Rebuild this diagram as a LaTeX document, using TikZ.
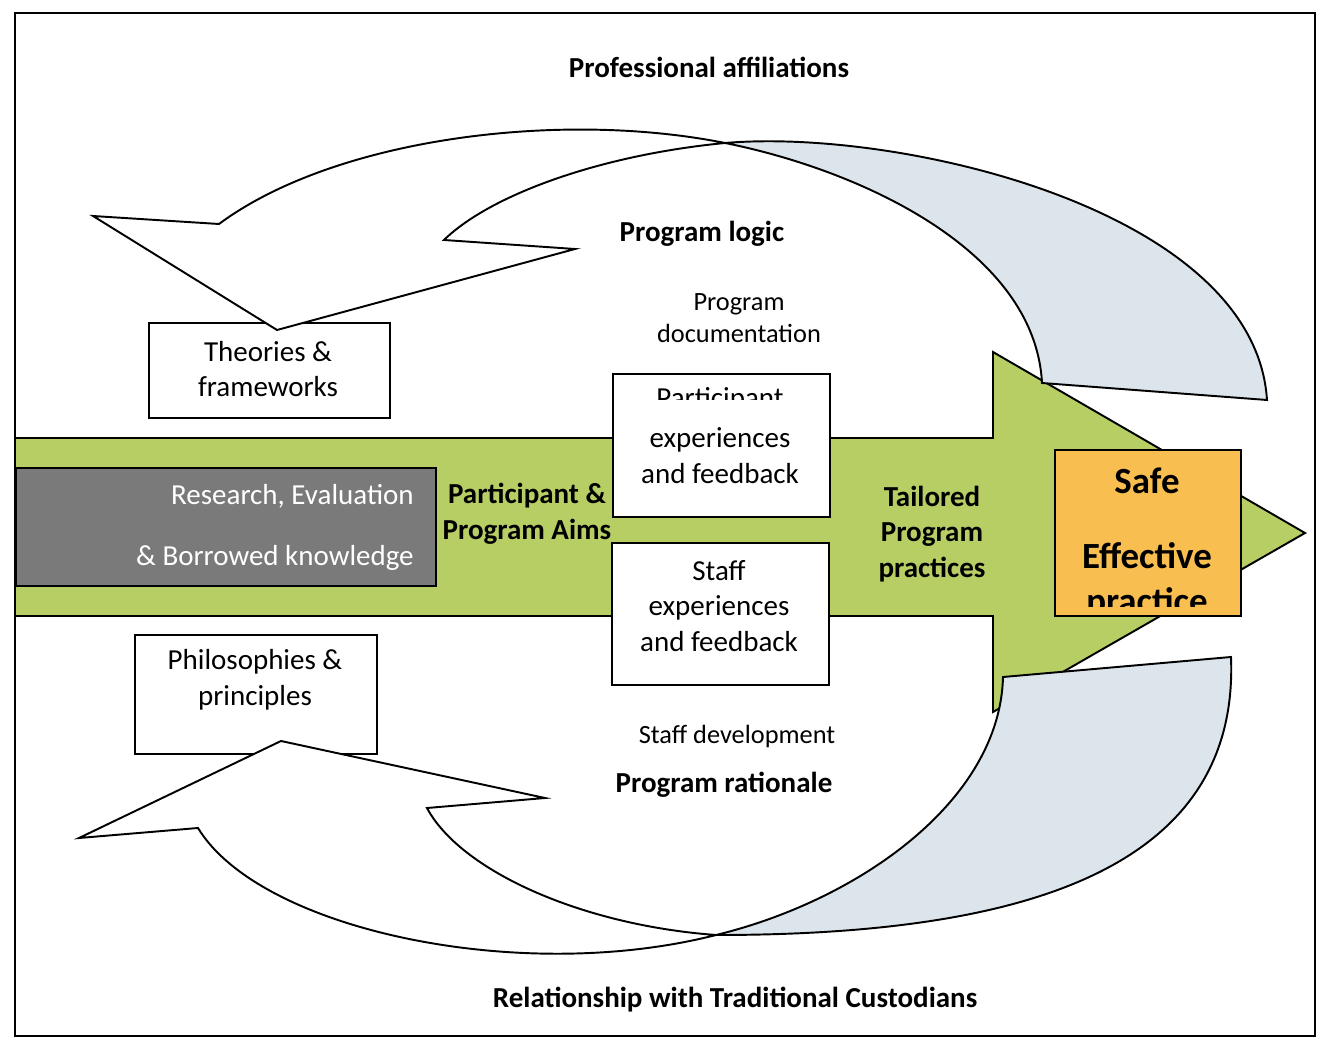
\documentclass[tikz,border=0pt]{standalone}
\usepackage{fontspec}
\setmainfont{Carlito}
\definecolor{grn}{RGB}{183,206,100}
\definecolor{blu}{RGB}{220,228,236}
\definecolor{org}{RGB}{248,190,80}
\definecolor{gry}{RGB}{122,122,122}
\newcommand\ftreg{\fontsize{16.5}{20.4}\selectfont}
\newcommand\ftsml{\fontsize{15}{18.1}\selectfont}
\newcommand\ftbld{\fontsize{16.5}{20.4}\selectfont\bfseries}
\newcommand\ftbig{\fontsize{21}{25.6}\selectfont\bfseries}
\begin{document}
\begin{tikzpicture}[x=0.02cm,y=-0.02cm,
  outl/.style={draw=black,line width=1.1pt,line join=miter},
  bx/.style={draw=black,line width=1.1pt,fill=white,inner sep=0pt,anchor=north west},
  lbl/.style={inner sep=0pt,font=\ftreg,align=center},
  slbl/.style={inner sep=0pt,font=\ftsml,align=center},
  blbl/.style={inner sep=0pt,font=\ftbld,align=center},
  biglbl/.style={inner sep=0pt,font=\ftbig,align=center,anchor=base},
]
\useasboundingbox (0,0) rectangle (1326,1040);
\fill[white] (0,0) rectangle (1326,1040);
\draw[line width=0.9pt] (15,13) rectangle (1315,1036);

% green main arrow
\draw[outl,fill=grn] (15,438) -- (993,438) -- (993,352) -- (1305,533) -- (993,712) -- (993,616) -- (15,616) -- cycle;

% grey knowledge box
\node[bx,fill=gry,minimum width=420*0.02cm,minimum height=118*0.02cm] (res) at (15,467) {};
\node[lbl,text=white,anchor=east] (res1) at (414,496) {Research, Evaluation};
\node[lbl,text=white,anchor=east] (res2) at (414,558) {\& Borrowed knowledge};

% participant and staff boxes
\node[bx,minimum width=217*0.02cm,minimum height=143*0.02cm] (pbox) at (612,373) {};
\begin{scope}
\clip (612,373) rectangle (829,400);
\node[lbl,anchor=base] (ptop) at (720,408) {Participant};
\end{scope}
\node[lbl] (ptxt) at (720,456) {experiences\\and feedback};
\node[bx,minimum width=217*0.02cm,minimum height=142*0.02cm] (sbox) at (611,542) {};
\node[lbl] (stxt) at (719,606) {Staff\\experiences\\and feedback};

\node[blbl] (aims) at (527,514) {Participant \&\\Program Aims};
\node[blbl] (tail) at (932,534) {Tailored\\Program\\practices};

% safe effective practice box
\node[bx,fill=org,minimum width=186*0.02cm,minimum height=166*0.02cm] (safe) at (1054,449) {};
\node[biglbl] (safe1) at (1147,494) {Safe};
\node[biglbl] (safe2) at (1147,568) {Effective};
\begin{scope}
\clip (1054,449) rectangle (1240,606);
\node[biglbl] (safe3) at (1147,613) {practice};
\end{scope}

% theory boxes
\node[bx,minimum width=241*0.02cm,minimum height=95*0.02cm] (theo) at (148,322) {};
\node[lbl] (theot) at (268,369) {Theories \&\\frameworks};
\node[bx,minimum width=242*0.02cm,minimum height=119*0.02cm] (phil) at (134,634) {};
\node[lbl] (philt) at (255,680) {Philosophies \&\\principles};

% upper curved arrow: back face
\draw[outl,fill=blu] (725,143) .. controls (900,128) and (1255,210) .. (1267,400)
  -- (1042,383) .. controls (1035,250) and (860,170) .. (725,143) -- cycle;
% upper curved arrow: front face with head
\draw[outl,fill=white] (219,224) -- (93,216) -- (277,330) -- (575,249) -- (444,240)
  .. controls (490,195) and (600,155) .. (725,143)
  .. controls (560,110) and (335,138) .. (219,224) -- cycle;

% lower curved arrow: back face
\draw[outl,fill=blu] (716,935) .. controls (1000,935) and (1240,880) .. (1231,657)
  -- (1003,677) .. controls (1000,800) and (860,900) .. (716,935) -- cycle;
% lower curved arrow: front face with head
\draw[outl,fill=white] (198,828) -- (79,838) -- (281,741) -- (545,798) -- (427,808)
  .. controls (460,870) and (580,925) .. (716,935)
  .. controls (520,985) and (260,930) .. (198,828) -- cycle;

% labels
\node[blbl] (prof) at (709,67) {Professional affiliations};
\node[blbl] (rel) at (735,1000) {Relationship with Traditional Custodians};
\node[blbl] (plog) at (702,234) {Program logic};
\node[slbl] (pdoc) at (739,318) {Program\\documentation};
\node[slbl] (sdev) at (737,736) {Staff development};
\node[blbl] (prat) at (724,785) {Program rationale};
\end{tikzpicture}
\end{document}
